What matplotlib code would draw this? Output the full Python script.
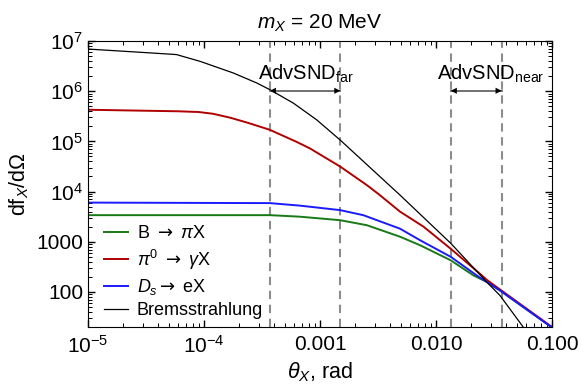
import matplotlib
matplotlib.use('Agg')
import matplotlib.pyplot as plt

plt.rcParams['font.family'] = 'Liberation Sans'
plt.rcParams['mathtext.fontset'] = 'custom'
plt.rcParams['mathtext.rm'] = 'Liberation Sans'
plt.rcParams['mathtext.it'] = 'Liberation Sans:italic'
plt.rcParams['mathtext.bf'] = 'Liberation Sans:bold'
plt.rcParams['mathtext.sf'] = 'DejaVu Sans'

# B -> pi X
theta_b = [1e-5, 3.7e-4, 6.7e-4, 1.49e-3, 2.53e-3, 4.9e-3, 7.3e-3, 0.0134, 0.021,
           0.0274, 0.0356, 0.096, 0.1]
flux_b = [3.39e3, 3.39e3, 3.16e3, 2.69e3, 2.14e3, 1.26e3, 851, 427, 214,
          158, 107, 20.9, 20]

# pi0 -> gamma X
theta_pi = [1e-5, 6e-5, 9e-5, 1.2e-4, 1.7e-4, 2.4e-4, 3.7e-4, 6.3e-4, 8.2e-4, 1.49e-3,
            2.53e-3, 3.2e-3, 4.9e-3, 7.8e-3, 0.0134, 0.0248, 0.0274, 0.0356, 0.096, 0.1]
flux_pi = [4.27e5, 3.98e5, 3.85e5, 3.55e5, 2.95e5, 2.34e5, 1.70e5, 9.77e4, 7.24e4, 3.16e4,
           1.35e4, 8.9e3, 3.98e3, 2.0e3, 724, 214, 174, 112, 21.4, 20]

# Ds -> e X
theta_ds = [1e-5, 3.7e-4, 6.7e-4, 1.49e-3, 2.36e-3, 4.9e-3, 7.3e-3, 0.0134, 0.0224,
            0.0274, 0.0356, 0.096, 0.1]
flux_ds = [6.03e3, 5.89e3, 5.25e3, 4.27e3, 3.39e3, 1.82e3, 1.07e3, 501, 214,
           158, 107, 20.9, 20]

# Bremsstrahlung
theta_br = [1e-5, 3.4e-5, 5.8e-5, 9.25e-5, 1.79e-4, 2.85e-4, 3.71e-4, 5.89e-4,
            9.37e-4, 1.49e-3, 4.9e-3, 0.0134, 0.0274, 0.0356, 0.0566, 0.062]
flux_br = [6.92e6, 5.81e6, 5.37e6, 3.94e6, 2.31e6, 1.46e6, 1.07e6, 5.8e5,
           2.69e5, 1.07e5, 8.5e3, 933, 157, 85, 19.8, 14.1]

far_edges = [3.7e-4, 1.5e-3]
near_edges = [0.0134, 0.0368]

fig = plt.figure(figsize=(5.82, 3.87), dpi=100)
ax = fig.add_axes([0.151, 0.155, 0.7975, 0.739])

arr = r'$\mathsf{\rightarrow}$'
ax.plot(theta_b, flux_b, color='#177a17', lw=1.4, label='B ' + arr + r' $\pi$X')
ax.plot(theta_pi, flux_pi, color='#b00000', lw=1.4, label=r'$\pi^0$ ' + arr + r' $\gamma$X')
ax.plot(theta_ds, flux_ds, color='#1a1aff', lw=1.4, label=r'$D_s$' + arr + ' eX')
ax.plot(theta_br, flux_br, color='black', lw=0.9, label='Bremsstrahlung')

for xv in far_edges + near_edges:
    ax.axvline(xv, color='#8c8c8c', lw=1.5, ls=(0, (4, 2.7)), zorder=1)

ax.set_xscale('log')
ax.set_yscale('log')
ax.set_xlim(1e-5, 0.1)
ax.set_ylim(20, 1e7)

ax.set_xticks([1e-5, 1e-4, 1e-3, 1e-2, 1e-1])
ax.set_xticklabels([r'$10^{-5}$', r'$10^{-4}$', '0.001', '0.010', '0.100'])
ax.set_yticks([100, 1000, 1e4, 1e5, 1e6, 1e7])
ax.set_yticklabels(['100', '1000', r'$10^{4}$', r'$10^{5}$', r'$10^{6}$', r'$10^{7}$'])

ax.tick_params(which='both', direction='in', top=True, right=True, labelsize=15)
ax.tick_params(which='major', length=5, width=1)
ax.tick_params(which='minor', length=3, width=0.7)
ax.tick_params(axis='x', pad=6)

ax.set_xlabel(r'$\theta_X$, rad', fontsize=15.5, labelpad=2)
ax.set_ylabel(r'df$_X$/d$\Omega$', fontsize=15.5, labelpad=4)
ax.set_title(r'$m_X$ = 20 MeV', fontsize=15, pad=9)

arrow_y = 1.02e6
for lo, hi in [far_edges, near_edges]:
    ax.plot([lo, hi], [arrow_y, arrow_y], color='#666666', lw=1.3)
    ax.annotate('', xy=(lo, arrow_y), xytext=(8, 0), textcoords='offset points',
                arrowprops=dict(arrowstyle='-|>', color='black', lw=0,
                                shrinkA=0, shrinkB=0, mutation_scale=11))
    ax.annotate('', xy=(hi, arrow_y), xytext=(-8, 0), textcoords='offset points',
                arrowprops=dict(arrowstyle='-|>', color='black', lw=0,
                                shrinkA=0, shrinkB=0, mutation_scale=11))

ax.text(7.57e-4, 1.7e6, r'AdvSND$_{\mathrm{far}}$', fontsize=14.5, ha='center', va='baseline')
ax.text(0.0298, 1.7e6, r'AdvSND$_{\mathrm{near}}$', fontsize=14.5, ha='center', va='baseline')

ax.legend(loc='lower left', bbox_to_anchor=(0.0, -0.03), frameon=False, fontsize=13,
          handlelength=1.3, handletextpad=0.5, labelspacing=0.3)

fig.savefig('out.png', dpi=100)
